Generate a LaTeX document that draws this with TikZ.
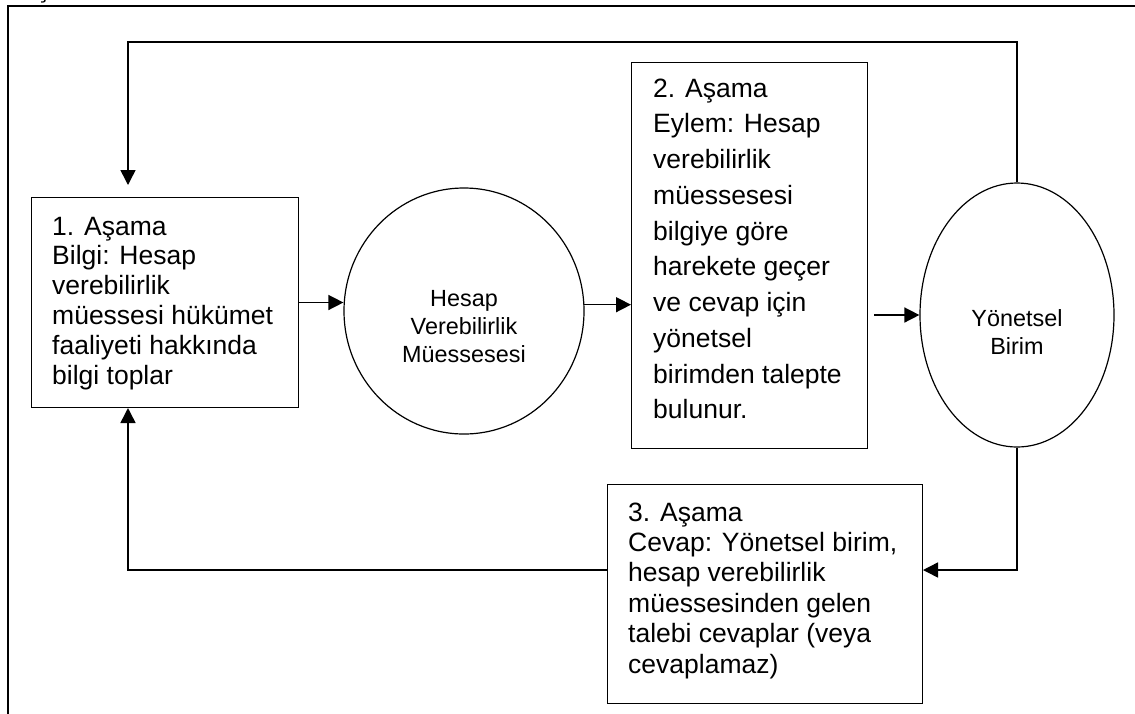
\documentclass[tikz,border=0pt]{standalone}
\usepackage{fontspec}
\setmainfont{Liberation Sans}
\usetikzlibrary{shapes.geometric,arrows.meta}
\begin{document}
\begin{tikzpicture}[x=1pt,y=-1pt,
  stagebox/.style={draw,line width=1pt,inner sep=0,anchor=north west},
  actor/.style={draw,ellipse,line width=1.2pt,inner sep=0},
  arr/.style={line width=1.5pt,-{Triangle[length=15pt,width=15pt]}},
  stagetext/.style={anchor=base west,inner sep=0},
  actortext/.style={anchor=base,inner sep=0}]
\useasboundingbox (0,0) rectangle (1135,713);
\draw[line width=2pt] (8,730) -- (8,6) -- (1150,6);
\node[anchor=base,inner sep=0,font=\fontsize{26.5}{30}\selectfont] (frag) at (43,-3) {Ş};
% boxes
\node[stagebox,minimum width=267pt,minimum height=210pt] (box1) at (31,197) {};
\node[stagebox,minimum width=236pt,minimum height=386pt] (box2) at (631,62) {};
\node[stagebox,minimum width=315pt,minimum height=219pt] (box3) at (607,484) {};
\node[actor,minimum width=240pt,minimum height=246pt] (ell1) at (464,311) {};
\node[actor,minimum width=194pt,minimum height=264pt] (ell2) at (1017,315) {};
% texts
\node[stagetext] (t1) at (52,235) {\parbox[t]{240pt}{\raggedright\fontsize{26.5}{29.8}\selectfont 1. Aşama\\Bilgi: Hesap\\verebilirlik\\müessesi hükümet\\faaliyeti hakkında\\bilgi toplar}};
\node[stagetext] (t2) at (653,97) {\parbox[t]{210pt}{\raggedright\fontsize{26.5}{35.75}\selectfont 2. Aşama\\Eylem: Hesap\\verebilirlik\\müessesesi\\bilgiye göre\\harekete geçer\\ve cevap için\\yönetsel\\birimden talepte\\bulunur.}};
\node[stagetext] (t3) at (628,521) {\parbox[t]{290pt}{\raggedright\fontsize{26.5}{30.4}\selectfont 3. Aşama\\Cevap: Yönetsel birim,\\hesap verebilirlik\\müessesinden gelen\\talebi cevaplar (veya\\cevaplamaz)}};
\node[actortext] (e1t) at (464,306) {\parbox[t]{220pt}{\centering\fontsize{23.4}{28}\selectfont Hesap\\Verebilirlik\\Müessesesi}};
\node[actortext] (e2t) at (1017,326) {\parbox[t]{180pt}{\centering\fontsize{23.4}{28}\selectfont Yönetsel\\Birim}};
% connectors
\coordinate (lx) at (128,0);
\coordinate (topy) at (0,42);
\coordinate (boty) at (0,570);
\draw[arr] (box1.east) -- (box1.east -| ell1.west);
\draw[arr] (ell1.3) -- (ell1.3 -| box2.west);
\draw[arr,shorten <=6pt] (box2.east |- ell2.west) -- (ell2.west);
\draw[arr,shorten >=12pt] (ell2.north) |- (lx |- topy) -- (lx |- box1.north);
\draw[arr] (box3.west |- boty) -| (lx |- box1.south);
\draw[arr] (ell2.south) |- (box3.east |- boty);
\end{tikzpicture}
\end{document}
